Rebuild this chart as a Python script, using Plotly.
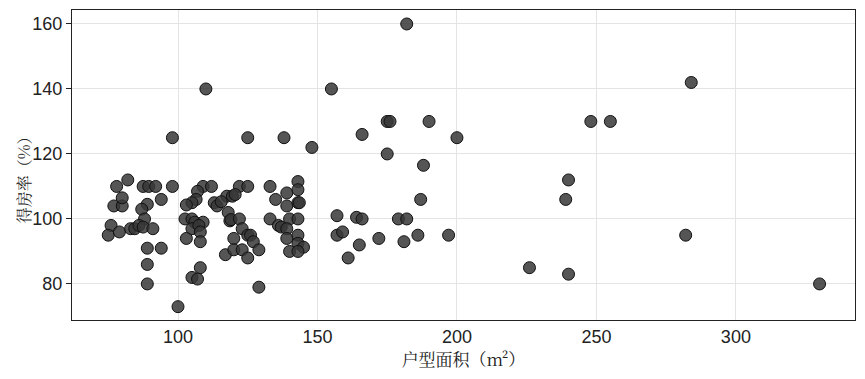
import plotly.graph_objects as go

area = [98,110,125,138,148,155,166,182,
        175,176,190,200,175,188,187,
        157,164,166,179,182,157,159,165,172,181,186,197,161,
        284,248,255,240,239,282,226,240,330,
        78,82,87.5,89.5,92,98,109,112,
        77,80,80,94,89,87,88,76,75,79,83,84.5,86,87.5,91,89,94,89,89,100,
        107,106.5,105,103,102.5,105,106,109,105,107.5,108,103,108,108,105,107,
        122,125,117.5,119.5,120.5,113,114,115.5,118,118.6,119,122,123,120,125,126,127,117,120,123,125,129,129,
        133,139,143,143,135,139,143,143.5,133,140,143,136,137,139,139,143,143,145,140,143]
rate = [125,140,125,125,122,140,126,160,
        130,130,130,125,120,116.5,106,
        101,100.5,100,100,100,95,96,92,94,93,95,95,88,
        142,130,130,112,106,95,85,83,80,
        110,112,110,110,110,110,110,110,
        104,104,106.5,106,104.5,103,100,98,95,96,97,97,98,97.5,97,91,91,86,80,73,
        108.5,106,105,104.3,100,100,99,99,97,98,96,94,93,85,82,81.5,
        110,110,107,107,107.5,105,104,105.3,102,99.4,99.8,100,97,94,95,95,93,89,90.5,90.5,88,90.5,79,
        110,108,111.5,109,106,104,105,105,100,100,100,98,97.5,97,94,95,92.5,91.3,90,90]

x_ticks = [100, 150, 200, 250, 300]
y_ticks = [80, 100, 120, 140, 160]

fig = go.Figure(go.Scatter(
    x=area, y=rate, mode="markers",
    marker=dict(size=12, color="rgba(55,55,55,0.85)",
                line=dict(color="#111111", width=1)),
    showlegend=False,
))

axis_common = dict(
    showline=True, linecolor="#222222", linewidth=1, mirror=True,
    tickcolor="#222222", tickwidth=1,
    showgrid=True, gridcolor="#e4e4e4", gridwidth=1, zeroline=False,
    automargin=False,
    tickfont=dict(family="Liberation Sans, Arial", size=18, color="#222222"),
)

title_font = dict(family="Noto Serif CJK SC, Noto Sans CJK SC", size=16, color="#222222")

# page has an 8px body margin, so the figure is sized to fit inside it
fig.update_layout(
    width=849, height=363,
    margin=dict(l=64, r=2, t=2, b=51),
    paper_bgcolor="white", plot_bgcolor="white",
    xaxis=dict(range=[62, 342.7], tickvals=x_ticks, ticks="",
               title=dict(text="户型面积（m²）", standoff=10,
                          font=dict(title_font, size=17)),
               **axis_common),
    yaxis=dict(range=[68.9, 164.3], tickvals=y_ticks, ticks="outside", ticklen=5,
               **axis_common),
    annotations=[dict(text="得房率（%）", textangle=-90, showarrow=False,
                      xref="paper", yref="paper", x=-0.062, y=0.465,
                      xanchor="center", yanchor="middle", font=title_font)],
)

fig.write_html("out.html")
